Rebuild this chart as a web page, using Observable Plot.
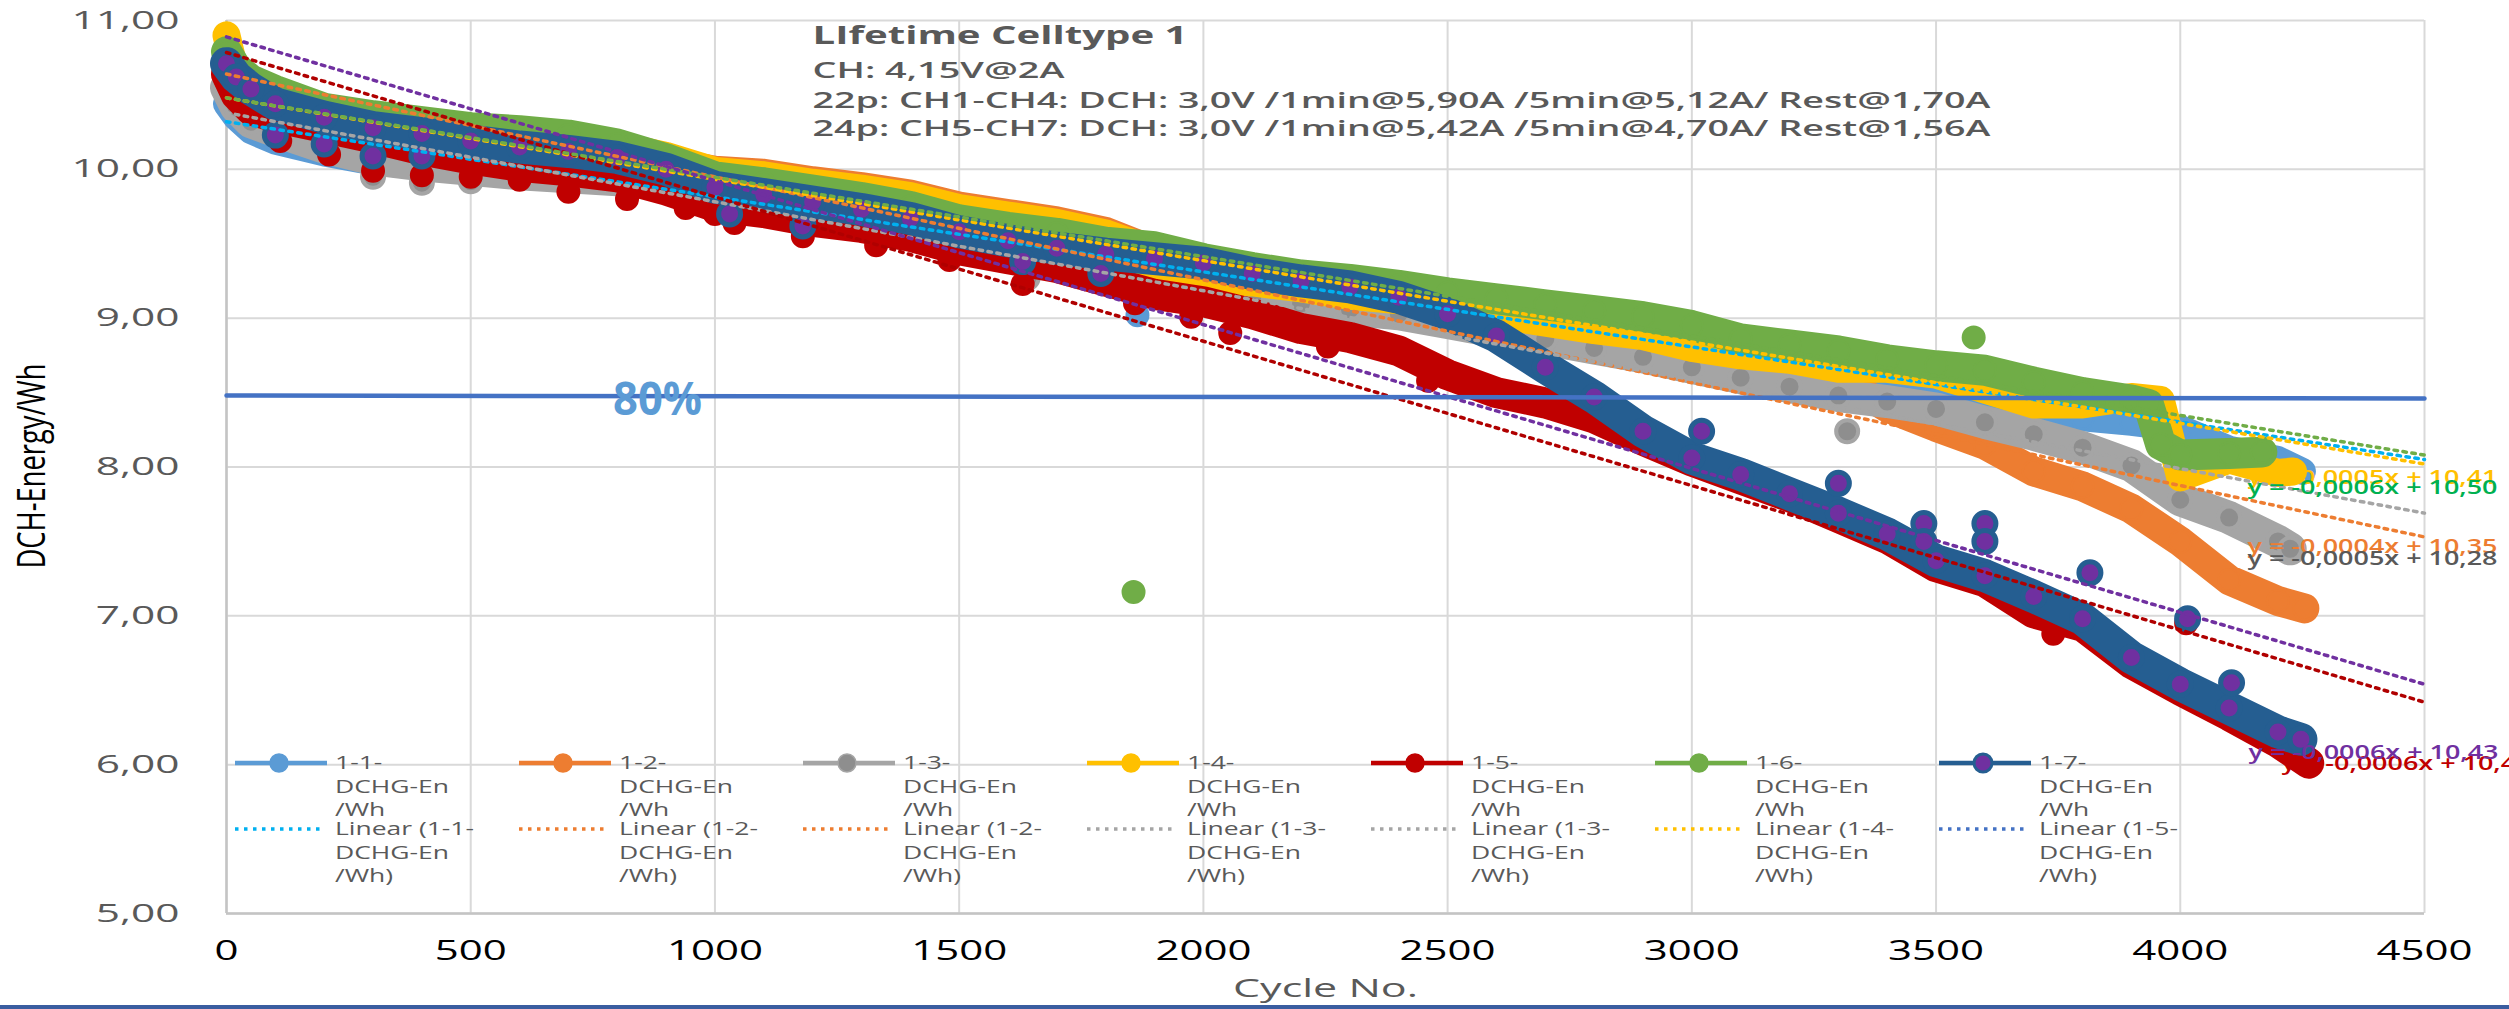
<!DOCTYPE html>
<html>
<head>
<meta charset="utf-8">
<script src="https://cdn.jsdelivr.net/npm/d3@7"></script>
<script src="https://cdn.jsdelivr.net/npm/@observablehq/plot@0.6"></script>
<style>
html, body { margin: 0; padding: 0; background: #fff; overflow: hidden; }
#chart { position: relative; width: 2509px; height: 1009px; }
svg text { font-family: 'Open Sans', 'Noto Sans', sans-serif; }
</style>
</head>
<body>
<div id="chart"></div>
<script>
// ---------------- DATA ----------------
const titleLines = [
  "LIfetime Celltype 1",
  "CH: 4,15V@2A",
  "22p: CH1-CH4: DCH: 3,0V /1min@5,90A /5min@5,12A/ Rest@1,70A",
  "24p: CH5-CH7: DCH: 3,0V /1min@5,42A /5min@4,70A/ Rest@1,56A"
];
const xTitle = "Cycle No.";
const yTitle = "DCH-Energy/Wh";
const xTicks = [0, 500, 1000, 1500, 2000, 2500, 3000, 3500, 4000, 4500];
const yTicks = [5, 6, 7, 8, 9, 10, 11];

const seriesKeys = ["1-1-", "1-2-", "1-3-", "1-4-", "1-5-", "1-6-", "1-7-"];
const cycles = [0, 20, 50, 100, 200, 300, 400, 500, 600, 700, 800, 900, 1000, 1100, 1200, 1300, 1400, 1500, 1600, 1700, 1800, 1900, 2000, 2100, 2200, 2300, 2400, 2500, 2600, 2700, 2800, 2900, 3000, 3100, 3200, 3300, 3400, 3500, 3600, 3700, 3800, 3900, 4000, 4100, 4200];
const s11 = [10.44, 10.35, 10.26, 10.19, 10.11, 10.05, 10.02, 9.99, 9.97, 9.95, 9.92, 9.89, 9.84, 9.79, 9.74, 9.69, 9.64, 9.59, 9.55, 9.50, 9.45, 9.36, 9.30, 9.27, 9.22, 9.17, 9.13, 9.08, 9.03, 8.98, 8.93, 8.88, 8.80, 8.74, 8.68, 8.62, 8.57, 8.53, 8.47, 8.38, 8.33, 8.30, 8.26, 8.12, 8.05];
const s12 = [10.65, 10.55, 10.45, 10.38, 10.30, 10.25, 10.21, 10.18, 10.15, 10.12, 10.09, 10.05, 9.99, 9.97, 9.92, 9.88, 9.83, 9.75, 9.70, 9.65, 9.58, 9.45, 9.36, 9.30, 9.24, 9.18, 9.10, 9.03, 8.98, 8.93, 8.88, 8.84, 8.78, 8.76, 8.72, 8.60, 8.40, 8.27, 8.15, 7.97, 7.87, 7.72, 7.50, 7.24, 7.10];
const s13 = [10.55, 10.42, 10.32, 10.26, 10.15, 10.07, 10.03, 10.00, 9.97, 9.95, 9.93, 9.90, 9.84, 9.78, 9.72, 9.66, 9.60, 9.54, 9.48, 9.42, 9.36, 9.29, 9.22, 9.14, 9.10, 9.06, 9.03, 8.97, 8.91, 8.86, 8.80, 8.74, 8.67, 8.60, 8.54, 8.48, 8.44, 8.39, 8.30, 8.22, 8.13, 8.01, 7.78, 7.66, 7.50];
const s14 = [10.90, 10.62, 10.50, 10.45, 10.38, 10.34, 10.31, 10.27, 10.24, 10.21, 10.16, 10.09, 9.99, 9.96, 9.91, 9.87, 9.82, 9.74, 9.69, 9.64, 9.57, 9.29, 9.26, 9.24, 9.20, 9.15, 9.12, 9.07, 9.02, 8.97, 8.92, 8.88, 8.80, 8.75, 8.72, 8.66, 8.66, 8.62, 8.52, 8.42, 8.42, 8.47, 7.93, 8.05, 7.96];
const s15 = [10.64, 10.50, 10.40, 10.35, 10.28, 10.21, 10.13, 10.07, 10.02, 9.99, 9.95, 9.86, 9.75, 9.71, 9.65, 9.61, 9.55, 9.46, 9.40, 9.34, 9.25, 9.16, 9.11, 9.03, 8.93, 8.87, 8.78, 8.62, 8.50, 8.43, 8.33, 8.18, 8.04, 7.92, 7.80, 7.66, 7.52, 7.33, 7.23, 7.02, 6.93, 6.68, 6.50, 6.33, 6.15];
const s16 = [10.79, 10.68, 10.60, 10.53, 10.41, 10.36, 10.32, 10.28, 10.26, 10.23, 10.17, 10.07, 9.95, 9.91, 9.86, 9.81, 9.75, 9.66, 9.61, 9.57, 9.51, 9.48, 9.40, 9.34, 9.29, 9.26, 9.22, 9.17, 9.13, 9.09, 9.05, 9.01, 8.95, 8.86, 8.82, 8.78, 8.72, 8.68, 8.65, 8.57, 8.50, 8.45, 8.08, 8.09, null];
const s17 = [10.71, 10.62, 10.54, 10.44, 10.35, 10.28, 10.24, 10.19, 10.15, 10.12, 10.08, 10.00, 9.88, 9.83, 9.78, 9.73, 9.67, 9.58, 9.52, 9.47, 9.43, 9.40, 9.37, 9.30, 9.25, 9.21, 9.14, 9.03, 8.88, 8.67, 8.47, 8.24, 8.06, 7.95, 7.82, 7.69, 7.55, 7.37, 7.27, 7.13, 6.98, 6.72, 6.54, 6.38, 6.22];
const seriesValues = [s11, s12, s13, s14, s15, s16, s17];
const seriesEndCycle = [4250, 4254, 4225, 4231, 4263, 4167, 4247];
const seriesEndValue = [7.97, 7.05, 7.45, 7.97, 6.01, 8.10, 6.17];

// extra points on the curves (steps)
const extraSeries = ["1-4-", "1-4-", "1-6-", "1-6-"];
const extraCycle = [1850, 3960, 3935, 3960];
const extraValue = [9.51, 8.45, 8.42, 8.15];

// single outlying measurements
const outlierSeries = ["1-5-","1-5-","1-5-","1-5-","1-5-","1-5-","1-5-","1-5-","1-5-","1-5-","1-5-","1-5-","1-5-","1-5-","1-5-","1-5-","1-5-","1-5-","1-5-","1-5-","1-5-","1-5-",
  "1-7-","1-7-","1-7-","1-7-","1-7-","1-7-","1-7-","1-7-","1-7-","1-7-","1-7-","1-7-","1-7-","1-7-","1-7-","1-7-","1-7-",
  "1-3-","1-3-","1-3-","1-3-","1-3-", "1-6-","1-6-", "1-1-"];
const outlierCycle = [110, 210, 300, 400, 500, 600, 700, 820, 940, 1000, 1040, 1180, 1330, 1480, 1630, 1860, 1975, 2055, 2255, 2460, 3740, 4012,
  100, 200, 300, 400, 1030, 1180, 1630, 1790, 3020, 3300, 3475, 3475, 3600, 3600, 3815, 4015, 4105,
  300, 400, 500, 1640, 3318, 1857, 3577, 1865];
const outlierValue = [10.19, 10.10, 9.99, 9.96, 9.95, 9.93, 9.85, 9.80, 9.74, 9.70, 9.64, 9.55, 9.49, 9.39, 9.23, 9.10, 9.01, 8.90, 8.81, 8.58, 6.88, 6.95,
  10.23, 10.17, 10.09, 10.09, 9.70, 9.62, 9.38, 9.30, 8.24, 7.89, 7.62, 7.50, 7.62, 7.50, 7.29, 6.98, 6.55,
  9.95, 9.91, 9.92, 9.27, 8.24, 7.16, 8.87, 9.02];

// linear trend lines (value at cycle 0 and at cycle 4500)
const trendCycles = [0, 4500];
const trendKeys = ["Linear 1-1", "Linear 1-2", "Linear 1-3", "Linear 1-4", "Linear 1-5", "Linear 1-6", "Linear 1-7"];
const trendStart = [10.32, 10.64, 10.38, 10.48, 10.785, 10.48, 10.89];
const trendEnd = [8.05, 7.53, 7.69, 8.02, 6.42, 8.08, 6.54];

// 80 % limit
const limitCycles = [0, 4500];
const limitValues = [8.48, 8.46];
const limitLabel = "80%";

// trend equations
const eqTexts = ["y = -0,0006x + 10,44", "y = -0,0005x + 10,41", "y = -0,0006x + 10,50", "y = -0,0004x + 10,35", "y = -0,0005x + 10,28", "y = -0,0006x + 10,43"];

// legend
const legendSeriesLabels = [["1-1-","DCHG-En","/Wh"],["1-2-","DCHG-En","/Wh"],["1-3-","DCHG-En","/Wh"],["1-4-","DCHG-En","/Wh"],["1-5-","DCHG-En","/Wh"],["1-6-","DCHG-En","/Wh"],["1-7-","DCHG-En","/Wh"]];
const legendTrendLabels = [["Linear (1-1-","DCHG-En","/Wh)"],["Linear (1-2-","DCHG-En","/Wh)"],["Linear (1-2-","DCHG-En","/Wh)"],["Linear (1-3-","DCHG-En","/Wh)"],["Linear (1-3-","DCHG-En","/Wh)"],["Linear (1-4-","DCHG-En","/Wh)"],["Linear (1-5-","DCHG-En","/Wh)"]];

// ---------------- STYLE ----------------
const seriesLine = ["#5b9bd5", "#ed7d31", "#a5a5a5", "#ffc000", "#c00000", "#70ad47", "#255e91"];
const seriesDotFill = ["#5b9bd5", "#ed7d31", "#8e8e8e", "#ffc000", "#c00000", "#70ad47", "#7030a0"];
const seriesDotStroke = ["#5b9bd5", "#ed7d31", "#a5a5a5", "#ffc000", "#c00000", "#70ad47", "#255e91"];
const seriesDotStrokeW = [2, 2, 4, 2, 2, 2, 5];
const seriesBandW = [27, 30, 33, 28, 31, 31, 33];
const trendColors = ["#00b0f0", "#ed7d31", "#a5a5a5", "#ffc000", "#b00000", "#70ad47", "#7030a0"];
const eqColors = ["#c00000", "#ffc000", "#00b050", "#ed7d31", "#595959", "#7030a0"];
const eqLayout = [[2281, 763], [2247, 477], [2247, 487], [2247, 546], [2247, 558], [2248, 752]]; // px left, px middle
const legendTrendColors = ["#00b0f0", "#ed7d31", "#ed7d31", "#a5a5a5", "#a5a5a5", "#ffc000", "#4472c4"];

const W = 2509, H = 1009, ML = 226, MR = 85, MT = 20, MB = 96;
const yFmt = d => d.toFixed(2).replace(".", ",");

const pointsBySeries = seriesKeys.map((k, i) => {
  const pts = [];
  cycles.forEach((c, j) => { const v = seriesValues[i][j]; if (v != null) pts.push({c, v}); });
  extraSeries.forEach((s, j) => { if (s === k) pts.push({c: extraCycle[j], v: extraValue[j]}); });
  pts.push({c: seriesEndCycle[i], v: seriesEndValue[i]});
  pts.sort((a, b) => a.c - b.c);
  return pts;
});
const outliersBySeries = seriesKeys.map(k => outlierSeries.map((s, j) => s === k ? {c: outlierCycle[j], v: outlierValue[j]} : null).filter(Boolean));

const trendData = trendKeys.flatMap((k, i) => trendCycles.map((c, j) => ({k, i, c, v: j === 0 ? trendStart[i] : trendEnd[i]})));
const limitData = limitCycles.map((c, j) => ({c, v: limitValues[j]}));

function eqMark(i) {
  return Plot.text([eqTexts[i]], {
    text: d => d, frameAnchor: "top-left", dx: eqLayout[i][0] - ML, dy: eqLayout[i][1] - MT,
    textAnchor: "start", lineAnchor: "middle", fontSize: 20, fontWeight: 600, fill: eqColors[i]
  });
}

const marks = [
  Plot.gridY(yTicks, {stroke: "#d9d9d9", strokeOpacity: 1, strokeWidth: 2}),
  Plot.gridX(xTicks, {stroke: "#d9d9d9", strokeOpacity: 1, strokeWidth: 2}),
  Plot.ruleX([0], {stroke: "#c4c4c4", strokeWidth: 2.5}),
  Plot.ruleY([5], {stroke: "#c4c4c4", strokeWidth: 2.5}),
  Plot.axisY({ticks: yTicks, tickSize: 0, tickPadding: 47, tickFormat: yFmt, label: null, fontSize: 25, color: "#595959"}),
  Plot.axisX({ticks: xTicks, tickSize: 0, tickPadding: 27, tickFormat: d => String(d), label: null, fontSize: 28, color: "#000"}),
  eqMark(0)
];
seriesKeys.forEach((k, i) => {
  marks.push(Plot.line(pointsBySeries[i], {x: "c", y: "v", stroke: seriesLine[i], strokeWidth: seriesBandW[i], strokeLinejoin: "round", strokeLinecap: "round"}));
  marks.push(Plot.dot(pointsBySeries[i].concat(outliersBySeries[i]), {x: "c", y: "v", r: 11, fill: seriesDotFill[i], stroke: seriesDotStroke[i], strokeWidth: seriesDotStrokeW[i]}));
});
marks.push(Plot.line(trendData, {x: "c", y: "v", z: "k", stroke: d => trendColors[d.i], strokeWidth: 3.5, strokeDasharray: "3.5,5.5"}));
marks.push(Plot.line(limitData, {x: "c", y: "v", stroke: "#4472c4", strokeWidth: 4.5}));
for (let i = 1; i < eqTexts.length; i++) marks.push(eqMark(i));
marks.push(Plot.text([limitLabel], {text: d => d, frameAnchor: "top-left", dx: 657 - ML, dy: 400 - MT, textAnchor: "middle", lineAnchor: "middle", fontSize: 46, fontWeight: "bold", fill: "#5b9bd5"}));
const titleDy = [15, 50, 80, 108];
const titleSize = [25, 22, 22, 22];
const titleWeight = ["bold", 600, 600, 600];
titleLines.forEach((t, i) => marks.push(Plot.text([t], {text: d => d, frameAnchor: "top-left", dx: 812 - ML, dy: titleDy[i], textAnchor: "start", lineAnchor: "middle", fontSize: titleSize[i], fontWeight: titleWeight[i], fill: "#595959"})));
marks.push(Plot.text([xTitle], {text: d => d, frameAnchor: "bottom", dy: 75, lineAnchor: "middle", fontSize: 26, fill: "#595959"}));

const chart = Plot.plot({
  width: W, height: H,
  marginLeft: ML, marginRight: MR, marginTop: MT, marginBottom: MB,
  x: {domain: [0, 4500]},
  y: {domain: [5, 11]},
  style: {fontFamily: "'Open Sans', sans-serif", background: "white", overflow: "hidden"},
  marks
});
document.getElementById("chart").appendChild(chart);

const svg = d3.select(chart);
// y title
const yTitleEl = svg.append("text").attr("transform", "translate(31,466) rotate(-90) scale(1,1.55)")
  .attr("text-anchor", "middle").attr("dy", "0.35em").attr("font-size", 25).attr("fill", "#000").text(yTitle);

// legend
const lg = svg.append("g").attr("aria-label", "legend").attr("text-anchor", "start");
const colStep = 284, lineX0 = 235, lineLen = 92, textOff = 100;
const rowY = [763, 829], lineGap = 23.5;
for (let i = 0; i < 7; i++) {
  const x0 = lineX0 + i * colStep;
  lg.append("line").attr("x1", x0).attr("x2", x0 + lineLen).attr("y1", rowY[0]).attr("y2", rowY[0]).attr("stroke", seriesLine[i]).attr("stroke-width", 4.5);
  lg.append("circle").attr("cx", x0 + 44).attr("cy", rowY[0]).attr("r", 9).attr("fill", seriesDotFill[i]).attr("stroke", seriesDotStroke[i]).attr("stroke-width", i === 6 ? 3 : 1.5);
  legendSeriesLabels[i].forEach((s, j) => lg.append("text").attr("class", "lgtext").attr("text-anchor", "start").attr("x", x0 + textOff).attr("y", rowY[0] + j * lineGap).attr("dy", "0.35em").attr("font-size", 18).attr("fill", "#595959").text(s));
  lg.append("line").attr("x1", x0).attr("x2", x0 + lineLen - 4).attr("y1", rowY[1]).attr("y2", rowY[1]).attr("stroke", legendTrendColors[i]).attr("stroke-width", 3.5).attr("stroke-dasharray", "3.5,5.5");
  legendTrendLabels[i].forEach((s, j) => lg.append("text").attr("class", "lgtext").attr("text-anchor", "start").attr("x", x0 + textOff).attr("y", rowY[1] + j * lineGap).attr("dy", "0.35em").attr("font-size", 18).attr("fill", "#595959").text(s));
}
// bottom border of the sheet
svg.append("rect").attr("x", 0).attr("y", 1005).attr("width", W).attr("height", 4).attr("fill", "#3a5da0");

// horizontal stretch of texts to match the reference
function setLen(t, w) { t.setAttribute("textLength", w.toFixed(1)); t.setAttribute("lengthAdjust", "spacingAndGlyphs"); }
function stretch(texts, refText, refWidth) {
  if (!texts.length) return;
  const lens = texts.map(t => t.getComputedTextLength());
  const ri = Math.max(0, texts.findIndex(t => t.textContent === refText));
  const f = refWidth / lens[ri];
  texts.forEach((t, k) => setLen(t, lens[k] * f));
}
const allTexts = Array.from(chart.querySelectorAll("text"));
const byContent = arr => allTexts.filter(t => arr.includes(t.textContent));
const sel = q => Array.from(chart.querySelectorAll(q));
stretch(sel('g[aria-label="y-axis tick label"] text'), "11,00", 108);
stretch(sel('g[aria-label="x-axis tick label"] text'), "2500", 96);
stretch(sel('text.lgtext'), "DCHG-En", 114);
byContent([xTitle]).forEach(t => setLen(t, 185));
byContent([limitLabel]).forEach(t => setLen(t, 89));
byContent(eqTexts).forEach(t => setLen(t, 250));
const titleW = [375, 252, 1178, 1178];
byContent(titleLines).forEach(t => setLen(t, titleW[titleLines.indexOf(t.textContent)]));
setLen(yTitleEl.node(), 205);
</script>
</body>
</html>
